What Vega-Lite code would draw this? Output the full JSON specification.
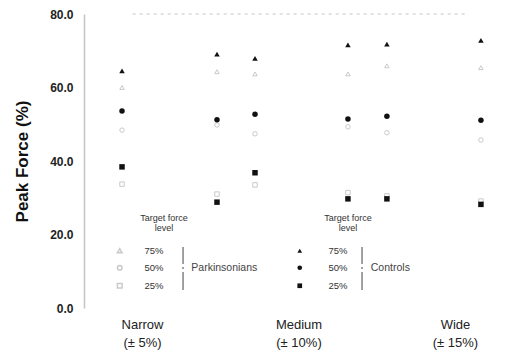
{
  "$schema": "https://vega.github.io/schema/vega-lite/v6.json",
  "width": 424,
  "height": 294,
  "autosize": {"type": "none"},
  "padding": {"left": 84, "top": 14, "right": 4, "bottom": 47},
  "background": "white",
  "config": {
    "view": {"stroke": null},
    "font": "Liberation Sans",
    "legend": {
      "padding": 0,
      "titleFontSize": 9,
      "titleFontWeight": "normal",
      "titleColor": "#333",
      "titleLineHeight": 10,
      "titleAnchor": "end",
      "titleAlign": "center",
      "titlePadding": 13,
      "labelFontSize": 9.5,
      "labelColor": "#333",
      "rowPadding": 6,
      "symbolSize": 22
    }
  },
  "datasets": {
    "force": [
      {"cond": 0.872, "group": "Controls", "level": "75%", "force": 64.5},
      {"cond": 0.872, "group": "Controls", "level": "50%", "force": 53.6},
      {"cond": 0.872, "group": "Controls", "level": "25%", "force": 38.4},
      {"cond": 0.872, "group": "Parkinsonians", "level": "75%", "force": 60.0},
      {"cond": 0.872, "group": "Parkinsonians", "level": "50%", "force": 48.4},
      {"cond": 0.872, "group": "Parkinsonians", "level": "25%", "force": 33.7},
      {"cond": 1.479, "group": "Controls", "level": "75%", "force": 69.1},
      {"cond": 1.479, "group": "Controls", "level": "50%", "force": 51.2},
      {"cond": 1.479, "group": "Controls", "level": "25%", "force": 28.8},
      {"cond": 1.479, "group": "Parkinsonians", "level": "75%", "force": 64.3},
      {"cond": 1.479, "group": "Parkinsonians", "level": "50%", "force": 49.8},
      {"cond": 1.479, "group": "Parkinsonians", "level": "25%", "force": 31.0},
      {"cond": 1.722, "group": "Controls", "level": "75%", "force": 67.9},
      {"cond": 1.722, "group": "Controls", "level": "50%", "force": 52.7},
      {"cond": 1.722, "group": "Controls", "level": "25%", "force": 36.8},
      {"cond": 1.722, "group": "Parkinsonians", "level": "75%", "force": 63.7},
      {"cond": 1.722, "group": "Parkinsonians", "level": "50%", "force": 47.4},
      {"cond": 1.722, "group": "Parkinsonians", "level": "25%", "force": 33.5},
      {"cond": 2.316, "group": "Controls", "level": "75%", "force": 71.6},
      {"cond": 2.316, "group": "Controls", "level": "50%", "force": 51.4},
      {"cond": 2.316, "group": "Controls", "level": "25%", "force": 29.7},
      {"cond": 2.316, "group": "Parkinsonians", "level": "75%", "force": 63.7},
      {"cond": 2.316, "group": "Parkinsonians", "level": "50%", "force": 49.3},
      {"cond": 2.316, "group": "Parkinsonians", "level": "25%", "force": 31.4},
      {"cond": 2.565, "group": "Controls", "level": "75%", "force": 71.8},
      {"cond": 2.565, "group": "Controls", "level": "50%", "force": 52.2},
      {"cond": 2.565, "group": "Controls", "level": "25%", "force": 29.7},
      {"cond": 2.565, "group": "Parkinsonians", "level": "75%", "force": 65.9},
      {"cond": 2.565, "group": "Parkinsonians", "level": "50%", "force": 47.7},
      {"cond": 2.565, "group": "Parkinsonians", "level": "25%", "force": 30.5},
      {"cond": 3.166, "group": "Controls", "level": "75%", "force": 72.8},
      {"cond": 3.166, "group": "Controls", "level": "50%", "force": 51.1},
      {"cond": 3.166, "group": "Controls", "level": "25%", "force": 28.2},
      {"cond": 3.166, "group": "Parkinsonians", "level": "75%", "force": 65.4},
      {"cond": 3.166, "group": "Parkinsonians", "level": "50%", "force": 45.7},
      {"cond": 3.166, "group": "Parkinsonians", "level": "25%", "force": 29.1}
    ],
    "notes": [
      {"text": "Parkinsonians", "cond": 1.315, "force": 10.9},
      {"text": "Controls", "cond": 2.462, "force": 10.9}
    ],
    "braces": [
      {"cond": 1.262, "top": 16.6, "bottom": 4.9},
      {"cond": 2.406, "top": 16.6, "bottom": 4.9}
    ],
    "frame": [
      {"cond": 0.94, "cond2": 3.07, "force": 80}
    ]
  },
  "layer": [
    {
      "data": {"name": "frame"},
      "mark": {"type": "rule", "color": "#c6c6c6", "strokeDash": [3, 4], "strokeWidth": 1},
      "encoding": {
        "x": {
          "field": "cond",
          "type": "quantitative",
          "scale": {"domain": [0.629, 3.339], "nice": false, "zero": false},
          "axis": {
            "values": [1, 2, 3],
            "labelExpr": "datum.value == 1 ? ['Narrow', '(± 5%)'] : datum.value == 2 ? ['Medium', '(± 10%)'] : ['Wide', '(± 15%)']",
            "title": null,
            "grid": false,
            "domain": false,
            "ticks": false,
            "labelFontSize": 13,
            "labelColor": "#222",
            "labelPadding": 10,
            "labelLineHeight": 18
          }
        },
        "x2": {"field": "cond2"},
        "y": {
          "field": "force",
          "type": "quantitative",
          "scale": {"domain": [0, 80], "nice": false},
          "axis": {
            "values": [0, 20, 40, 60, 80],
            "format": ".1f",
            "title": "Peak Force (%)",
            "titleFontSize": 17,
            "titleFontWeight": "bold",
            "titleColor": "#111",
            "titlePadding": 18,
            "labelFontSize": 12,
            "labelFontWeight": "bold",
            "labelColor": "#222",
            "labelPadding": 11,
            "ticks": false,
            "grid": false,
            "domainColor": "#c4c4c4",
            "domainWidth": 1.5
          }
        }
      }
    },
    {
      "data": {"name": "force"},
      "transform": [{"filter": "datum.group == 'Parkinsonians'"}],
      "mark": {"type": "point", "filled": false, "color": "#b4b4b4", "strokeWidth": 1, "size": 20},
      "encoding": {
        "x": {"field": "cond", "type": "quantitative"},
        "y": {"field": "force", "type": "quantitative"},
        "shape": {
          "field": "level",
          "type": "nominal",
          "scale": {"domain": ["75%", "50%", "25%"], "range": ["triangle-up", "circle", "square"]},
          "legend": {
            "title": ["Target force", "level"],
            "orient": "none",
            "legendX": 31,
            "legendY": 200,
            "labelOffset": 20
          }
        }
      }
    },
    {
      "data": {"name": "force"},
      "transform": [{"filter": "datum.group == 'Controls'"}],
      "mark": {"type": "point", "filled": true, "color": "#111", "opacity": 1, "size": 30},
      "encoding": {
        "x": {"field": "cond", "type": "quantitative"},
        "y": {"field": "force", "type": "quantitative"},
        "shape": {
          "field": "level",
          "type": "nominal",
          "scale": {"domain": ["75%", "50%", "25%"], "range": ["triangle-up", "circle", "square"]},
          "legend": {
            "title": ["Target force", "level"],
            "orient": "none",
            "legendX": 211,
            "legendY": 200,
            "labelOffset": 24
          }
        }
      }
    },
    {
      "data": {"name": "braces"},
      "mark": {"type": "rule", "color": "#555", "strokeWidth": 1.1, "strokeDash": [17, 3, 2, 3, 18]},
      "encoding": {
        "x": {"field": "cond", "type": "quantitative"},
        "y": {"field": "top", "type": "quantitative"},
        "y2": {"field": "bottom"}
      }
    },
    {
      "data": {"name": "notes"},
      "mark": {"type": "text", "fontSize": 10.5, "color": "#444", "baseline": "middle", "align": "left"},
      "encoding": {
        "x": {"field": "cond", "type": "quantitative"},
        "y": {"field": "force", "type": "quantitative"},
        "text": {"field": "text"}
      }
    }
  ],
  "resolve": {"scale": {"shape": "independent"}, "legend": {"shape": "independent"}}
}
